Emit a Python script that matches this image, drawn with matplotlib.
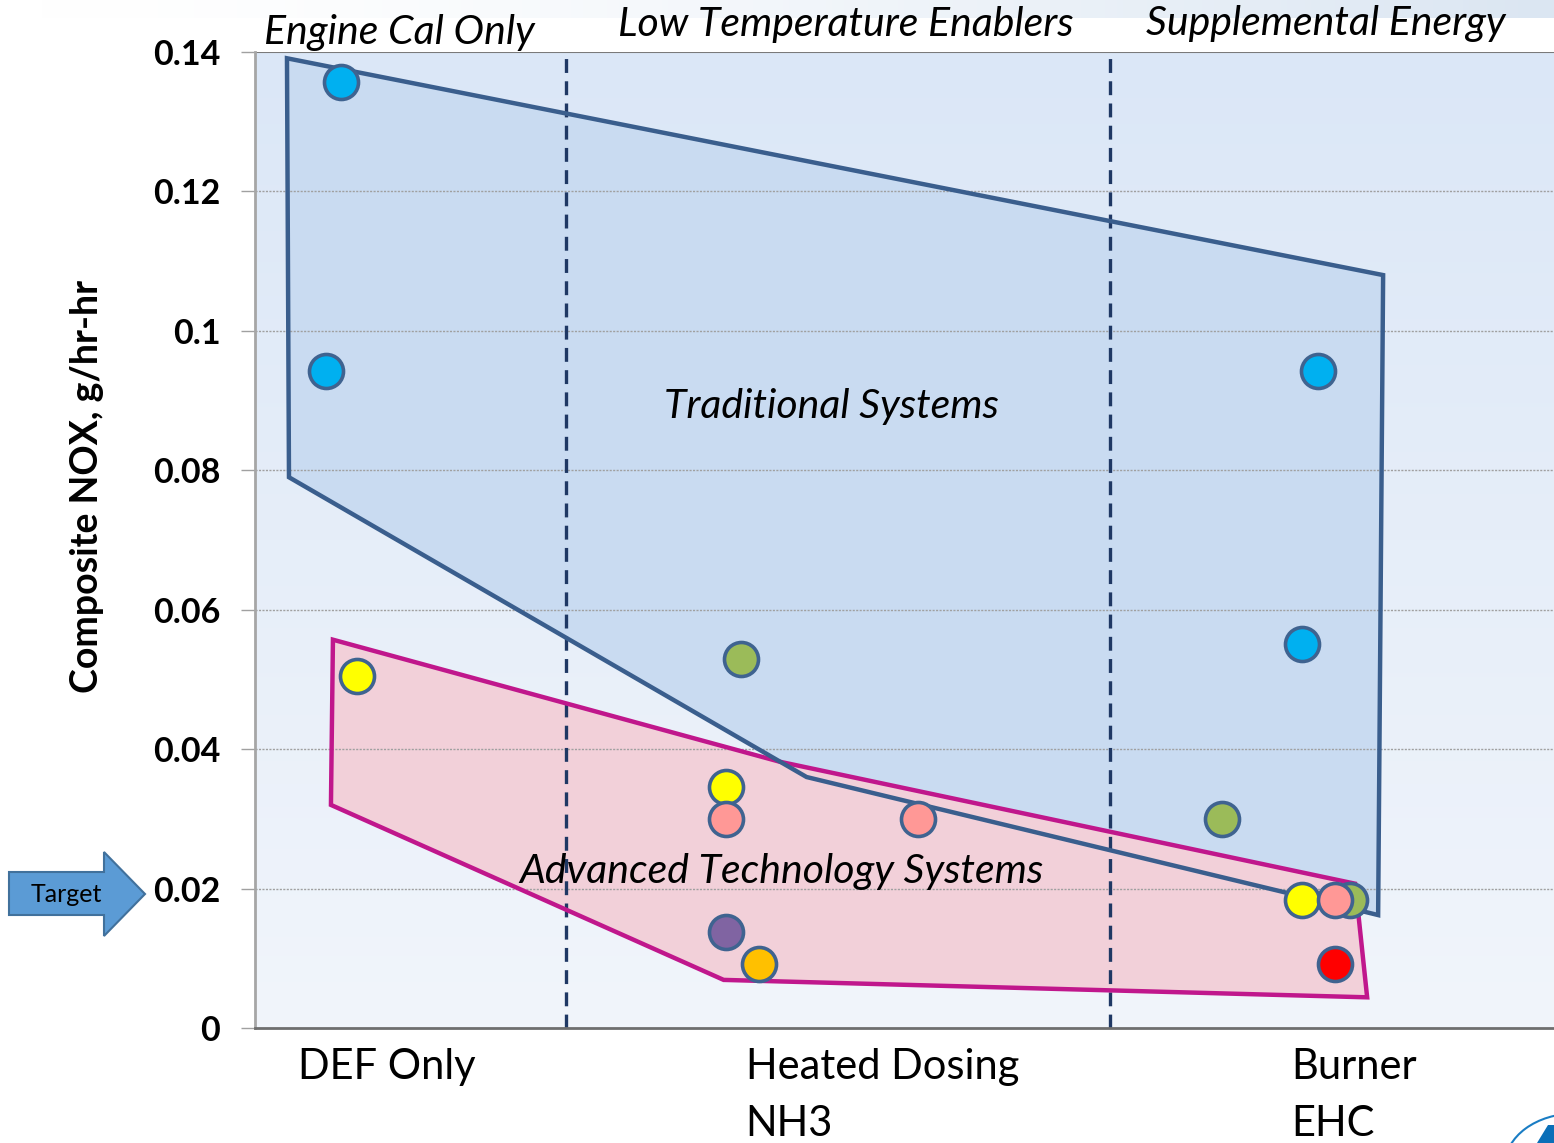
import matplotlib
matplotlib.use('Agg')
import matplotlib.pyplot as plt
import numpy as np
from matplotlib.patches import Polygon, Circle
from matplotlib.transforms import blended_transform_factory

plt.rcParams['font.family'] = ['Lato', 'DejaVu Sans']
plt.rcParams['lines.scale_dashes'] = False

# NOx results per system (x is position along the technology axis)
blue_x = [0.86, 0.71, 10.64, 10.48]
blue_y = [0.1357, 0.0942, 0.0942, 0.0551]
green_x = [4.86, 9.68, 10.96]
green_y = [0.0529, 0.0300, 0.0184]
yellow_x = [1.02, 4.71, 10.48]
yellow_y = [0.0505, 0.0346, 0.0184]
pink_x = [4.71, 6.64, 10.81]
pink_y = [0.0300, 0.0300, 0.0184]
purple_x = [4.71]
purple_y = [0.0138]
orange_x = [5.04]
orange_y = [0.0092]
red_x = [10.81]
red_y = [0.0092]

# envelopes around the two groups of systems
trad_x = [0.32, 11.29, 11.24, 10.41, 5.52, 0.34]
trad_y = [0.1391, 0.1080, 0.0162, 0.0191, 0.0360, 0.0790]
adv_x = [0.78, 5.25, 11.01, 11.13, 4.69, 0.76]
adv_y = [0.0557, 0.0382, 0.0207, 0.0044, 0.0069, 0.0320]

sections = ['Engine Cal Only', 'Low Temperature Enablers', 'Supplemental Energy']
section_x = [1.44, 5.91, 10.72]
section_breaks = [3.11, 8.56]
categories = ['DEF Only', 'Heated Dosing\nNH3', 'Burner\nEHC']
category_x = [0.43, 4.91, 10.37]
yticks = [0, 0.02, 0.04, 0.06, 0.08, 0.1, 0.12, 0.14]
ytick_labels = ['0', '0.02', '0.04', '0.06', '0.08', '0.1', '0.12', '0.14']

W, H = 1554, 1143
fig = plt.figure(figsize=(W / 100, H / 100), dpi=100)
fig.patch.set_facecolor('white')


def fpx(x, y):
    return (x / W, 1 - y / H)


# faint slide band along the top edge
band = fig.add_axes([0, 1 - 18 / H, 1, 18 / H], zorder=-5)
grad = np.linspace(0, 1, 256) ** 1.5
band.imshow(np.array([grad, grad]), cmap=matplotlib.colors.LinearSegmentedColormap.from_list('b', ['#ffffff', '#dbe6f2']),
            aspect='auto', extent=[0, 1, 0, 1])
band.axis('off')

ax = fig.add_axes([255 / W, 1 - 1028 / H, 1299 / W, 976 / H])
ax.set_xlim(0, 13)
ax.set_ylim(0, 0.14)

# plot area gradient
bg = np.linspace(0, 1, 256).reshape(-1, 1)
bg_cmap = matplotlib.colors.LinearSegmentedColormap.from_list('bg', ['#f1f5fb', '#dbe7f7'])
ax.imshow(bg, cmap=bg_cmap, aspect='auto', extent=[0, 13, 0, 0.14], origin='lower', zorder=0)

# envelopes: blue fill, then pink envelope, then blue outline on top
trad = np.column_stack([trad_x, trad_y])
adv = np.column_stack([adv_x, adv_y])
ax.add_patch(Polygon(trad, closed=True, facecolor='#c9dbf1', edgecolor='none', zorder=1))
ax.add_patch(Polygon(adv, closed=True, facecolor='#f2d0d9', edgecolor='none', zorder=1.5))

for v in yticks[1:-1]:
    ax.axhline(v, color='#a0a0a0', lw=1, ls=(0, (1.5, 1)), zorder=2)
ax.axhline(0.14, color='#7a7a7a', lw=1.5, zorder=2)

for xb in section_breaks:
    ax.axvline(xb, color='#1f3864', lw=2.4, dashes=(10, 6), zorder=2.5)

ax.add_patch(Polygon(adv, closed=True, facecolor='none', edgecolor='#c0178c', lw=3.2,
                     joinstyle='miter', zorder=3))
ax.add_patch(Polygon(trad, closed=True, facecolor='none', edgecolor='#3a5e8d', lw=3.2,
                     joinstyle='miter', zorder=3.5))

marker_kw = dict(s=600, edgecolors='#3f6390', linewidths=2.6, zorder=5)
ax.scatter(blue_x, blue_y, c='#00b0f0', **marker_kw)
ax.scatter(green_x, green_y, c='#9bbb59', **marker_kw)
ax.scatter(yellow_x, yellow_y, c='#ffff00', **marker_kw)
ax.scatter(pink_x, pink_y, c='#ff9896', **marker_kw)
ax.scatter(purple_x, purple_y, c='#8064a2', **marker_kw)
ax.scatter(orange_x, orange_y, c='#ffc000', **marker_kw)
ax.scatter(red_x, red_y, c='#ff0000', **marker_kw)

ax.text(5.77, 0.0891, 'Traditional Systems', style='italic', fontsize=29.5, ha='center', va='center', zorder=6)
ax.text(5.27, 0.0225, 'Advanced Technology Systems', style='italic', fontsize=29.5, ha='center', va='center', zorder=6)

trans = blended_transform_factory(ax.transData, ax.transAxes)
section_base = [1.008, 1.0164, 1.0174]
for name, xs, yb in zip(sections, section_x, section_base):
    ax.text(xs, yb, name, style='italic', fontsize=29.5, ha='center', va='baseline', transform=trans)
for name, xc in zip(categories, category_x):
    ax.text(xc, -0.021, name, fontsize=30, ha='left', va='top', linespacing=1.6, transform=trans)

ax.set_xticks([])
ax.set_yticks(yticks)
ax.set_yticklabels(ytick_labels, fontweight='bold', fontsize=24.5)
ax.tick_params(axis='y', length=10, width=1, color='#a0a0a0', pad=15)
ax.set_ylabel('Composite NOX, g/hr-hr', fontweight='bold', fontsize=27)
ax.yaxis.set_label_coords(-0.1162, 0.555)

for side in ['top', 'right']:
    ax.spines[side].set_visible(False)
ax.spines['left'].set_color('#a6a6a6')
ax.spines['left'].set_linewidth(2)
ax.spines['bottom'].set_color('#6e6e6e')
ax.spines['bottom'].set_linewidth(2)

# target arrow pointing at the 0.02 line
arrow_pts = [(9, 872), (104, 872), (104, 852), (145, 894), (104, 936), (104, 915), (9, 915)]
fig.patches.append(Polygon([fpx(x, y) for x, y in arrow_pts], closed=True, transform=fig.transFigure,
                           facecolor='#5b9bd5', edgecolor='#41719c', lw=1.5))
fig.text(*fpx(66, 894), 'Target', fontsize=18, ha='center', va='center')

# corner logo fragment
fig.patches.append(Circle(fpx(1575, 1165), 70 / W, transform=fig.transFigure, facecolor='none',
                          edgecolor='#1a7dc4', lw=1.5))
fig.patches.append(Polygon([fpx(1537, 1143), fpx(1548, 1125), fpx(1554, 1125), fpx(1554, 1143)],
                           closed=True, transform=fig.transFigure, facecolor='#0a6fb8', edgecolor='none'))

fig.savefig('out.png', dpi=100)
